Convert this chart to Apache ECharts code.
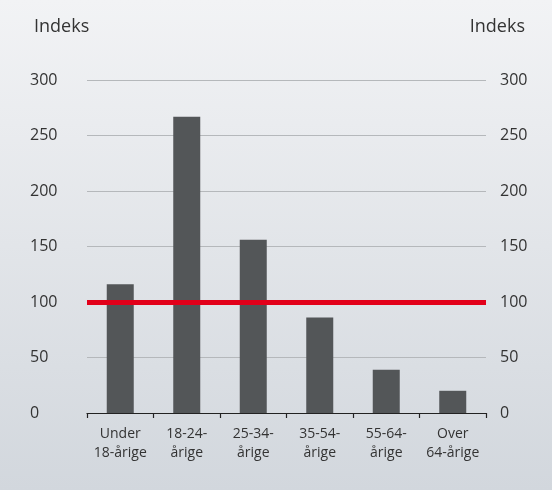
<!DOCTYPE html>
<html>
<head>
<meta charset="utf-8">
<script src="https://cdn.jsdelivr.net/npm/echarts@6/dist/echarts.min.js"></script>
<style>
  html, body { margin: 0; padding: 0; }
  #chart { width: 552px; height: 490px; }
</style>
</head>
<body>
<div id="chart"></div>
<script>
// aldersgrupper og indeks
const categories = ['Under\n18-årige', '18-24-\nårige', '25-34-\nårige', '35-54-\nårige', '55-64-\nårige', 'Over\n64-årige']
const values = [116, 267, 156, 86, 39, 20]
const yTicks = [0, 50, 100, 150, 200, 250, 300]
const baseline = 100

const chart = echarts.init(document.getElementById('chart'))
const font = '"Open Sans", sans-serif'
const textColor = '#333'

const yAxisBase = {
  type: 'value',
  min: yTicks[0],
  max: yTicks[yTicks.length - 1],
  interval: yTicks[1] - yTicks[0],
  axisLine: { show: false },
  axisTick: { show: false }
}

const option = {
  animation: false,
  backgroundColor: new echarts.graphic.LinearGradient(0, 0, 0, 1, [
    { offset: 0, color: '#f2f3f5' },
    { offset: 1, color: '#d2d7dd' }
  ]),
  title: [{
    text: 'Indeks',
    left: 29,
    top: 13,
    textStyle: { fontFamily: font, fontSize: 18, fontWeight: 'normal', color: textColor }
  }, {
    text: 'Indeks',
    right: 22,
    top: 13,
    textStyle: { fontFamily: font, fontSize: 18, fontWeight: 'normal', color: textColor }
  }],
  grid: {
    left: 87,
    right: 66,
    top: 80,
    bottom: 77
  },
  xAxis: {
    type: 'category',
    data: categories,
    axisLine: { lineStyle: { color: '#222', width: 1.2 } },
    axisTick: { show: true, length: 5, lineStyle: { color: '#222', width: 1.2 } },
    axisLabel: {
      interval: 0,
      margin: 12,
      fontFamily: font,
      fontSize: 14,
      lineHeight: 19,
      color: textColor
    }
  },
  yAxis: [Object.assign({}, yAxisBase, {
    position: 'left',
    splitLine: { lineStyle: { color: '#b5b8bb', width: 1 } },
    axisLabel: { align: 'left', margin: 57, fontFamily: font, fontSize: 16, color: textColor }
  }), Object.assign({}, yAxisBase, {
    position: 'right',
    splitLine: { show: false },
    axisLabel: { align: 'left', margin: 14, fontFamily: font, fontSize: 16, color: textColor }
  })],
  series: [{
    type: 'bar',
    data: values,
    barWidth: 27,
    itemStyle: { color: '#535658' },
    markLine: {
      silent: true,
      symbol: 'none',
      label: { show: false },
      lineStyle: { color: '#e2001a', width: 5, type: 'solid' },
      data: [{ yAxis: baseline }]
    }
  }]
}

chart.setOption(option)
</script>
</body>
</html>
